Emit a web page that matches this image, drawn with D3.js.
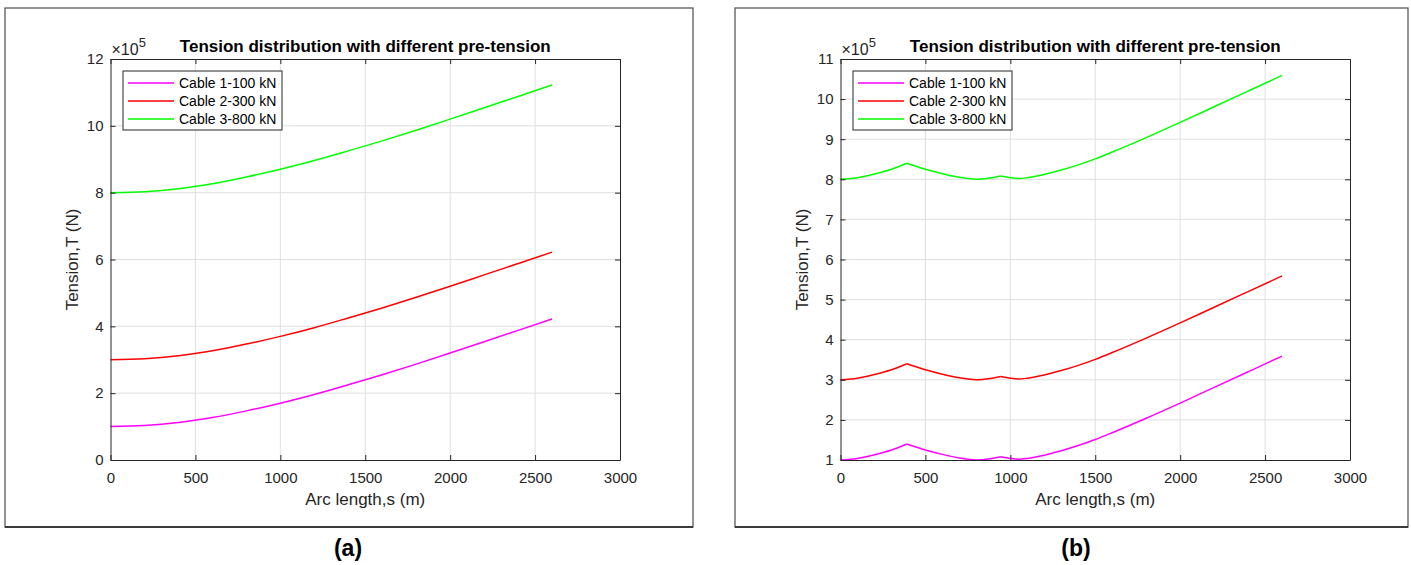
<!DOCTYPE html>
<html>
<head>
<meta charset="utf-8">
<script src="https://cdn.jsdelivr.net/npm/d3@7"></script>
<style>
  body { margin: 0; background: #fff; }
  text { font-family: "Liberation Sans", Arial, Helvetica, sans-serif; }
</style>
</head>
<body>
<svg id="chart" width="1411" height="565"></svg>
<script>
// ---- data -------------------------------------------------------------
const seriesNames  = ["Cable 1-100 kN", "Cable 2-300 kN", "Cable 3-800 kN"];
const seriesColors = ["#ff00ff", "#ff0000", "#00ff00"];

const xTicks  = [0, 500, 1000, 1500, 2000, 2500, 3000];
const yTicksA = [0, 2, 4, 6, 8, 10, 12];
const yTicksB = [1, 2, 3, 4, 5, 6, 7, 8, 9, 10, 11];

// (a) arc length (m) and tension (x10^5 N)
const sA      = [0, 200, 400, 600, 800, 1000, 1200, 1400, 1600, 1800, 2000, 2200, 2400, 2600];
const cable1A = [1.00, 1.03, 1.12, 1.27, 1.47, 1.70, 1.96, 2.25, 2.55, 2.87, 3.20, 3.54, 3.88, 4.22];
const cable2A = [3.00, 3.03, 3.12, 3.27, 3.47, 3.70, 3.96, 4.25, 4.55, 4.87, 5.20, 5.54, 5.88, 6.22];
const cable3A = [8.00, 8.03, 8.12, 8.27, 8.47, 8.70, 8.96, 9.25, 9.55, 9.87, 10.20, 10.54, 10.88, 11.22];

// (b) arc length (m) and tension (x10^5 N); kinks at the attachment points
const sB      = [0, 100, 200, 300, 390, 500, 600, 700, 800, 880, 943, 1000, 1050, 1100, 1200, 1300, 1400, 1500, 1600, 1800, 2000, 2200, 2400, 2600];
const cable1B = [1.00, 1.04, 1.13, 1.25, 1.40, 1.25, 1.14, 1.05, 1.00, 1.03, 1.08, 1.04, 1.02, 1.04, 1.12, 1.23, 1.36, 1.51, 1.68, 2.04, 2.42, 2.81, 3.20, 3.59];
const cable2B = [3.00, 3.04, 3.13, 3.25, 3.40, 3.25, 3.14, 3.05, 3.00, 3.03, 3.08, 3.04, 3.02, 3.04, 3.12, 3.23, 3.36, 3.51, 3.68, 4.04, 4.42, 4.81, 5.20, 5.59];
const cable3B = [8.00, 8.04, 8.13, 8.25, 8.40, 8.25, 8.14, 8.05, 8.00, 8.03, 8.08, 8.04, 8.02, 8.04, 8.12, 8.23, 8.36, 8.51, 8.68, 9.04, 9.42, 9.81, 10.20, 10.59];
const kinksB  = [390, 943];

const titleText = "Tension distribution with different pre-tension";
const xLabel = "Arc length,s (m)";
const yLabel = "Tension,T (N)";

// ---- drawing ----------------------------------------------------------
const svg = d3.select("#chart");
const axisColor = "#262626";

const panels = [
  { tag: "(a)", frame: [5, 8, 693, 527], plot: [110.5, 59, 620, 460], tagX: 348,
    s: sA, series: [cable1A, cable2A, cable3A], yTicks: yTicksA, kinks: [],
    legend: [123, 71] },
  { tag: "(b)", frame: [735, 8, 1408, 527], plot: [840.5, 59, 1350, 460], tagX: 1076,
    s: sB, series: [cable1B, cable2B, cable3B], yTicks: yTicksB, kinks: kinksB,
    legend: [853, 71] }
];

panels.forEach(p => {
  const [fx0, fy0, fx1, fy1] = p.frame;
  const [px0, py0, px1, py1] = p.plot;

  // figure frame
  svg.append("rect")
    .attr("x", fx0).attr("y", fy0)
    .attr("width", fx1 - fx0).attr("height", fy1 - fy0)
    .attr("fill", "#fff").attr("stroke", "#5a5a5a").attr("stroke-width", 1.3);
  svg.append("line")
    .attr("x1", fx0).attr("x2", fx1).attr("y1", fy1).attr("y2", fy1)
    .attr("stroke", "#1e1e1e").attr("stroke-width", 1.5);

  const x = d3.scaleLinear().domain([xTicks[0], xTicks[xTicks.length - 1]]).range([px0, px1]);
  const y = d3.scaleLinear().domain([p.yTicks[0], p.yTicks[p.yTicks.length - 1]]).range([py1, py0]);

  const g = svg.append("g");

  // grid
  g.append("g").selectAll("line").data(xTicks.slice(1, -1)).join("line")
    .attr("x1", d => x(d)).attr("x2", d => x(d))
    .attr("y1", py0).attr("y2", py1)
    .attr("stroke", "#dfdfdf").attr("stroke-width", 1);
  g.append("g").selectAll("line").data(p.yTicks.slice(1, -1)).join("line")
    .attr("x1", px0).attr("x2", px1)
    .attr("y1", d => y(d)).attr("y2", d => y(d))
    .attr("stroke", "#dfdfdf").attr("stroke-width", 1);

  // series lines; split at kinks so corners stay sharp
  const line = d3.line().x(d => x(d[0])).y(d => y(d[1])).curve(d3.curveMonotoneX);
  p.series.forEach((vals, i) => {
    const pts = p.s.map((s, k) => [s, vals[k]]);
    const breaks = [p.s[0], ...p.kinks, p.s[p.s.length - 1]];
    for (let b = 0; b < breaks.length - 1; b++) {
      const seg = pts.filter(d => d[0] >= breaks[b] && d[0] <= breaks[b + 1]);
      g.append("path").datum(seg)
        .attr("d", line)
        .attr("fill", "none")
        .attr("stroke", seriesColors[i])
        .attr("stroke-width", 1.5)
        .attr("stroke-linejoin", "round");
    }
  });

  // axes (ticks point inward, box on all sides)
  const styleAxis = sel => {
    sel.selectAll("path").attr("stroke", axisColor).attr("stroke-width", 1);
    sel.selectAll("line").attr("stroke", axisColor).attr("stroke-width", 1);
    sel.selectAll("text").attr("fill", axisColor).style("font-size", "15px")
      .style("font-family", '"Liberation Sans", Arial, sans-serif');
  };
  g.append("g").attr("transform", `translate(0,${py1})`)
    .call(d3.axisBottom(x).tickValues(xTicks).tickSizeInner(-5).tickSizeOuter(0).tickPadding(12).tickFormat(d3.format("d")))
    .call(styleAxis);
  g.append("g").attr("transform", `translate(0,${py0})`)
    .call(d3.axisTop(x).tickValues(xTicks).tickSizeInner(-5).tickSizeOuter(0).tickFormat(""))
    .call(styleAxis);
  g.append("g").attr("transform", `translate(${px0},0)`)
    .call(d3.axisLeft(y).tickValues(p.yTicks).tickSizeInner(-5).tickSizeOuter(0).tickPadding(7).tickFormat(d3.format("d")))
    .call(styleAxis);
  g.append("g").attr("transform", `translate(${px1},0)`)
    .call(d3.axisRight(y).tickValues(p.yTicks).tickSizeInner(-5).tickSizeOuter(0).tickFormat(""))
    .call(styleAxis);

  // exponent label
  const ex = g.append("text").attr("x", px0 + 1).attr("y", py0 - 4)
    .attr("fill", axisColor).style("font-size", "16px");
  ex.append("tspan").text("\u00d710");
  ex.append("tspan").attr("dy", -8).style("font-size", "13px").text("5");

  // title
  g.append("text").attr("x", (px0 + px1) / 2).attr("y", 52)
    .attr("text-anchor", "middle").attr("fill", "#000")
    .style("font-size", "17px").style("font-weight", "bold")
    .text(titleText);

  // axis labels
  g.append("text").attr("x", (px0 + px1) / 2).attr("y", 505)
    .attr("text-anchor", "middle").attr("fill", axisColor)
    .style("font-size", "17px").text(xLabel);
  g.append("text")
    .attr("transform", `translate(${px0 - 33},${(py0 + py1) / 2}) rotate(-90)`)
    .attr("text-anchor", "middle").attr("fill", axisColor)
    .style("font-size", "17px").text(yLabel);

  // legend
  const [lx, ly] = p.legend;
  const lg = g.append("g").attr("transform", `translate(${lx},${ly})`);
  lg.append("rect").attr("x", 0).attr("y", 0).attr("width", 159).attr("height", 59)
    .attr("fill", "#fff").attr("stroke", axisColor).attr("stroke-width", 1);
  seriesNames.forEach((name, i) => {
    const cy = 12 + i * 18;
    lg.append("line").attr("x1", 5).attr("x2", 51).attr("y1", cy).attr("y2", cy)
      .attr("stroke", seriesColors[i]).attr("stroke-width", 1.5);
    lg.append("text").attr("x", 56).attr("y", cy).attr("dy", "0.35em")
      .attr("fill", "#000").style("font-size", "14px").text(name);
  });

  // panel tag
  svg.append("text").attr("x", p.tagX).attr("y", 556)
    .attr("text-anchor", "middle").attr("fill", "#000")
    .style("font-size", "23px").style("font-weight", "bold")
    .text(p.tag);
});
</script>
</body>
</html>
